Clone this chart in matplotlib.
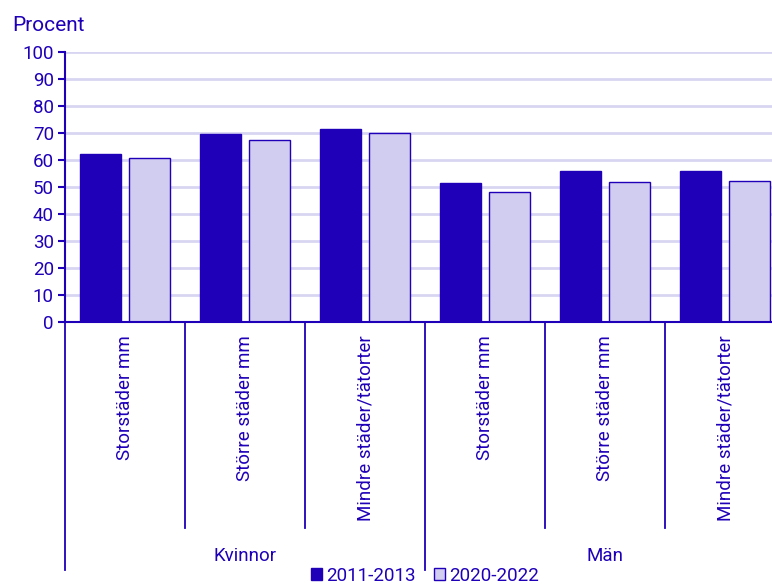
import numpy as np
import matplotlib
matplotlib.use("Agg")
import matplotlib.pyplot as plt
import matplotlib.transforms as mtransforms
from matplotlib.patches import Patch

plt.rcParams['font.family'] = ['Roboto', 'DejaVu Sans']

DARK  = '#1f00b8'
LIGHT = '#d1cdf0'
GRID  = '#d8d5f2'
FS    = 13.5

groups     = ['Kvinnor', 'Män']
categories = ['Storstäder mm', 'Större städer mm', 'Mindre städer/tätorter',
              'Storstäder mm', 'Större städer mm', 'Mindre städer/tätorter']
series     = ['2011-2013', '2020-2022']
vals_2011  = [62.2, 69.6, 71.6, 51.4, 55.9, 56.0]
vals_2020  = [60.9, 67.5, 69.9, 48.1, 51.7, 52.2]

fig = plt.figure(figsize=(7.72, 5.84), dpi=100)
# plot area runs a little past the right edge of the picture, as in the original
ax = fig.add_axes([65/772, 1-322/584, 720/772, 270/584])

x = np.arange(len(categories))
w = 0.342
off = 0.204
ax.bar(x - off, vals_2011, w, color=DARK, edgecolor=DARK, linewidth=1, zorder=3)
ax.bar(x + off, vals_2020, w, color=LIGHT, edgecolor=DARK, linewidth=1, zorder=3)

ax.set_xlim(-0.5, len(categories) - 0.5)
ax.set_ylim(0, 100)
ax.set_yticks(range(0, 101, 10))
ax.tick_params(axis='y', colors=DARK, labelcolor=DARK, labelsize=FS,
               length=5, width=1.5, pad=3)
ax.set_xticks([])
ax.grid(axis='y', color=GRID, linewidth=2, zorder=0)
for s in ['top', 'right']:
    ax.spines[s].set_visible(False)
ax.spines['left'].set_color(DARK)
ax.spines['left'].set_linewidth(1.5)
ax.spines['bottom'].set_color(DARK)
ax.spines['bottom'].set_linewidth(1.5)
ax.spines['bottom'].set_zorder(4)

fig.text(12/772, 1-31/584, 'Procent', color=DARK, fontsize=15,
         ha='left', va='baseline')

trans = mtransforms.blended_transform_factory(ax.transData, ax.transAxes)

# category separators
for i in range(len(categories)):
    xi = i - 0.5
    y_end = -0.92 if i % 3 == 0 else -0.763
    ax.plot([xi, xi], [0, y_end], transform=trans, color=DARK, lw=1.3,
            clip_on=False)

# category labels
for i, c in enumerate(categories):
    ax.text(i, -0.05, c, transform=trans, rotation=90, ha='center', va='top',
            color=DARK, fontsize=FS)

# group labels
for g, name in enumerate(groups):
    ax.text(g * 3 + 1, -0.865, name, transform=trans, ha='center',
            va='center', color=DARK, fontsize=FS)

handles = [Patch(facecolor=DARK, edgecolor=DARK),
           Patch(facecolor=LIGHT, edgecolor=DARK)]
leg = fig.legend(handles, series, loc='center', bbox_to_anchor=(425/772, 1-576/584),
                 ncol=2, frameon=False, fontsize=FS, handlelength=0.6,
                 handleheight=0.6, handletextpad=0.2, columnspacing=1.0,
                 borderpad=0)
for t in leg.get_texts():
    t.set_color(DARK)

fig.savefig('out.png', dpi=100)
